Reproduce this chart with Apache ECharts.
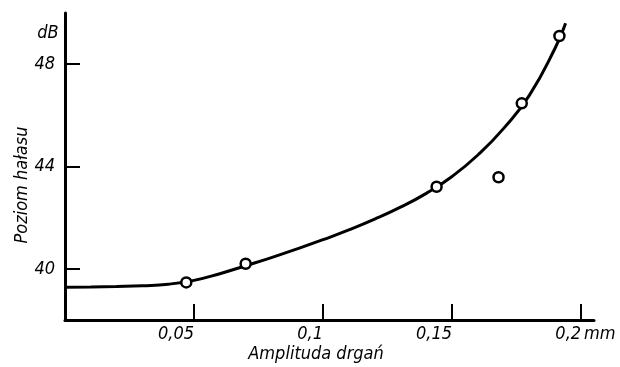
<!DOCTYPE html>
<html>
<head>
<meta charset="utf-8">
<script src="https://cdn.jsdelivr.net/npm/echarts@6/dist/echarts.min.js"></script>
<style>html,body{margin:0;padding:0;background:#fff;}#c{width:620px;height:367px;}</style>
</head>
<body>
<div id="c"></div>
<script>
// Tick positions and labels
const xTicks = [0.05, 0.1, 0.15, 0.2];
const xTickLabels = ['0,05', '0,1', '0,15', '0,2'];
const yTicks = [40, 44, 48];
const yTickLabels = ['40', '44', '48'];

// Measured points (amplitude mm, noise level dB)
const measX = [0.047, 0.070, 0.144, 0.168, 0.177, 0.1916];
const measY = [39.47, 40.2, 43.21, 43.58, 46.47, 49.1];

// Fitted curve
const curveX = [0, 0.01, 0.02, 0.03, 0.04, 0.05, 0.06, 0.07, 0.08, 0.09, 0.10, 0.11, 0.12, 0.13, 0.14, 0.15, 0.16, 0.17, 0.18, 0.19, 0.194];
const curveY = [39.28, 39.29, 39.31, 39.34, 39.40, 39.55, 39.81, 40.12, 40.44, 40.78, 41.14, 41.52, 41.94, 42.41, 42.95, 43.61, 44.45, 45.49, 46.79, 48.64, 49.6];

const FONT = '"DejaVu Sans Condensed", "Liberation Sans", sans-serif';

const chart = echarts.init(document.getElementById('c'), null, {renderer: 'canvas'});
const fmtX = v => { const i = xTicks.findIndex(t => Math.abs(t - v) < 1e-6); return i >= 0 ? xTickLabels[i] : ''; };
const fmtY = v => { const i = yTicks.findIndex(t => Math.abs(t - v) < 1e-6); return i >= 0 ? yTickLabels[i] : ''; };

chart.setOption({
  animation: false,
  backgroundColor: '#ffffff',
  grid: {left: 65, right: 26, top: 13, bottom: 47, containLabel: false},
  xAxis: {
    type: 'value', min: 0, max: 0.205,
    splitLine: {show: false},
    axisLine: {show: true, onZero: false, lineStyle: {color: '#000', width: 3}},
    axisTick: {show: true, inside: true, length: 16, customValues: xTicks, lineStyle: {color: '#000', width: 2}},
    axisLabel: {show: true, customValues: xTicks, formatter: fmtX, align: 'right', margin: 5,
      color: '#000', fontFamily: FONT, fontStyle: 'italic', fontSize: 18}
  },
  yAxis: {
    type: 'value', min: 38, max: 50,
    splitLine: {show: false},
    axisLine: {show: true, onZero: false, lineStyle: {color: '#000', width: 3}},
    axisTick: {show: true, inside: true, length: 15, customValues: yTicks, lineStyle: {color: '#000', width: 2}},
    axisLabel: {show: true, customValues: yTicks, formatter: fmtY, margin: 10,
      color: '#000', fontFamily: FONT, fontStyle: 'italic', fontSize: 18}
  },
  graphic: [
    {type: 'text', left: 584, top: 325, style: {text: 'mm', fill: '#000', font: 'italic 18px ' + FONT}},
    {type: 'text', x: 316, y: 354, style: {text: 'Amplituda drgań', fill: '#000', font: 'italic 18px ' + FONT, align: 'center', verticalAlign: 'middle'}},
    {type: 'text', x: 22, y: 185, rotation: Math.PI / 2, style: {text: 'Poziom hałasu', fill: '#000', font: 'italic 18px ' + FONT, align: 'center', verticalAlign: 'middle'}},
    {type: 'text', x: 48, y: 33, style: {text: 'dB', fill: '#000', font: 'italic 18px ' + FONT, align: 'center', verticalAlign: 'middle'}}
  ],
  series: [
    {
      type: 'line', data: curveX.map((x, i) => [x, curveY[i]]),
      smooth: 0.5, showSymbol: false, symbol: 'none',
      lineStyle: {color: '#000', width: 3}, z: 2
    },
    {
      type: 'scatter', data: measX.map((x, i) => [x, measY[i]]),
      symbol: 'circle', symbolSize: 10,
      itemStyle: {color: '#fff', opacity: 1, borderColor: '#000', borderWidth: 2.5}, z: 3
    }
  ]
});
</script>
</body>
</html>
